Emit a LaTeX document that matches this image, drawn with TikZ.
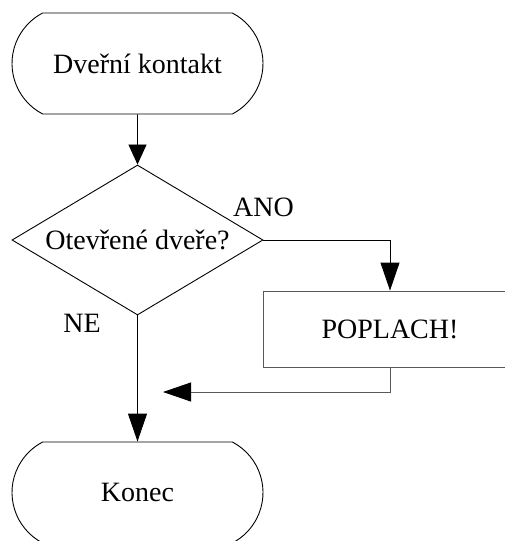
\documentclass[tikz,border=0pt]{standalone}
\usepackage{fontspec}
\setmainfont{Liberation Serif}
\newfontfamily\chartfont{Liberation Serif}
\usetikzlibrary{arrows.meta,positioning,shapes.geometric,shapes.misc}

\begin{document}
\begin{tikzpicture}[
  x=1pt,y=-1pt,
  font=\chartfont\fontsize{28}{34}\selectfont,
  line width=0.9pt,
  terminal/.style={rounded rectangle,rounded rectangle arc length=125,draw,minimum width=251pt,minimum height=101pt,inner sep=0pt},
  decision/.style={diamond,draw,aspect=1.67,minimum width=251pt,minimum height=150pt,inner sep=0pt},
  process/.style={rectangle,draw=black!65,minimum width=254pt,minimum height=76pt,inner sep=0pt},
  >={Triangle[length=28pt,width=19pt,color=black]}
]
\useasboundingbox (0,0) rectangle (504,541);
\node[terminal] (start) at (137.5,63.5) {Dveřní kontakt};
\node[decision] (door) at (137.5,240) {Otevřené dveře?};
\node[process] (alarm) at (390,329) {POPLACH!};
\node[terminal] (stop) at (137.5,492.5) {Konec};
\node (yes) at (263.5,207) {ANO};
\node (no) at (82,323) {NE};
\coordinate (back) at (163,392);
\draw[-{Triangle[length=20pt,width=18pt]}] (start) -- (door);
\draw[->] (door.east) -| (alarm.north);
\draw[->,draw=black!65] (alarm.south) |- (back);
\draw[->] (door.south) -- (stop.north);
\end{tikzpicture}
\end{document}
